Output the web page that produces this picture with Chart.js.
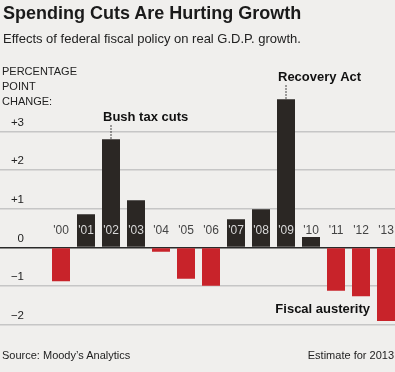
<!DOCTYPE html>
<html>
<head>
<meta charset="utf-8">
<script src="https://cdn.jsdelivr.net/npm/chart.js@4/dist/chart.umd.min.js"></script>
<style>
  html, body { margin: 0; padding: 0; width: 395px; height: 372px; overflow: hidden; background: #f0efed; }
  #wrap { position: relative; width: 395px; height: 372px; overflow: hidden; }
  canvas { position: absolute; left: 0; top: 0; }
  .t { position: absolute; font-family: "Liberation Sans", Arial, sans-serif; color: #1a1a1a; white-space: nowrap; }
  #title { left: 3px; top: 3px; font-size: 18px; font-weight: bold; }
  #sub { left: 3px; top: 31px; font-size: 13px; color: #222; }
  #cap { left: 2px; top: 64px; font-size: 11px; line-height: 15px; color: #222; }
  #src { left: 2px; top: 349px; font-size: 11px; color: #222; }
  #est { right: 1px; top: 349px; font-size: 11px; color: #222; }
</style>
</head>
<body>
<div id="wrap">
  <canvas id="c" width="400" height="372" style="width:400px;height:372px"></canvas>
  <div class="t" id="title">Spending Cuts Are Hurting Growth</div>
  <div class="t" id="sub">Effects of federal fiscal policy on real G.D.P. growth.</div>
  <div class="t" id="cap">PERCENTAGE<br>POINT<br>CHANGE:</div>
  <div class="t" id="src">Source: Moody’s Analytics</div>
  <div class="t" id="est">Estimate for 2013</div>
</div>
<script>
const categories = ["'00","'01","'02","'03","'04","'05","'06","'07","'08","'09","'10","'11","'12","'13"];
const values = [-0.87, 0.86, 2.80, 1.22, -0.11, -0.81, -0.99, 0.73, 0.99, 3.83, 0.27, -1.12, -1.26, -1.90];
const yTicks = [-2, -1, 0, 1, 2, 3];
const yTickLabels = ["\u22122", "\u22121", "0", "+1", "+2", "+3"];
const annotations = [
  { index: 2, text: "Bush tax cuts" },
  { index: 9, text: "Recovery Act" }
];
const austerityLabel = { text: "Fiscal austerity", index: 12, value: -1.6 };

const DARK = '#2b2724';
const RED = '#c8232a';
const FONT = '"Liberation Sans", Arial, sans-serif';

const overlay = {
  id: 'overlay',
  afterDatasetsDraw(chart) {
    const ctx = chart.ctx;
    const xs = chart.scales.x, ys = chart.scales.y;
    const meta = chart.getDatasetMeta(0);
    const y0 = ys.getPixelForValue(0);
    ctx.save();
    // category labels
    ctx.font = '12px ' + FONT;
    ctx.textAlign = 'center';
    ctx.textBaseline = 'middle';
    categories.forEach((c, i) => {
      const x = xs.getPixelForValue(i);
      const ly = y0 - 17;
      const bar = meta.data[i];
      const onBar = values[i] > 0 && bar.y < ly - 6;
      ctx.fillStyle = onBar ? '#d8d8d8' : '#444';
      ctx.fillText(c, x, ly);
    });
    // annotations
    ctx.font = 'bold 13px ' + FONT;
    ctx.textAlign = 'left';
    annotations.forEach(a => {
      const bar = meta.data[a.index];
      const x = bar.x;
      const top = bar.y;
      ctx.fillStyle = '#111';
      ctx.fillText(a.text, x - 8, top - 22);
      ctx.strokeStyle = '#333';
      ctx.lineWidth = 1.2;
      ctx.setLineDash([1.5, 1.5]);
      ctx.beginPath();
      ctx.moveTo(x, top - 14);
      ctx.lineTo(x, top);
      ctx.stroke();
      ctx.setLineDash([]);
    });
    // austerity label
    const ab = meta.data[austerityLabel.index];
    ctx.textAlign = 'right';
    ctx.fillStyle = '#111';
    ctx.fillText(austerityLabel.text, ab.x + 9, ys.getPixelForValue(austerityLabel.value));
    ctx.restore();
  }
};

new Chart(document.getElementById('c'), {
  type: 'bar',
  data: {
    labels: categories,
    datasets: [{
      data: values,
      backgroundColor: values.map(v => v >= 0 ? DARK : RED),
      borderWidth: 0,
      barPercentage: 0.72,
      categoryPercentage: 1.0
    }]
  },
  options: {
    responsive: false,
    animation: false,
    devicePixelRatio: 1,
    layout: { padding: { top: 92.7, bottom: 35.5, left: 0, right: 1.5 } },
    plugins: { legend: { display: false }, tooltip: { enabled: false } },
    scales: {
      x: { display: false },
      y: {
        min: -2.3,
        max: 4,
        afterBuildTicks(scale) { scale.ticks = yTicks.map(v => ({ value: v })); },
        afterFit(scale) { scale.width = 48.5; },
        border: { display: false },
        grid: {
          drawTicks: true,
          tickLength: 48.5,
          color: c => c.tick && c.tick.value === 0 ? '#2a2a2a' : '#c6c6c6',
          lineWidth: c => c.tick && c.tick.value === 0 ? 1.6 : 1.4
        },
        ticks: {
          padding: -24,
          labelOffset: -9,
          color: '#222',
          font: { family: FONT, size: 11.5 },
          callback: (v) => { const i = yTicks.indexOf(v); return i >= 0 ? yTickLabels[i] : ''; }
        }
      }
    }
  },
  plugins: [overlay]
});
</script>
</body>
</html>
